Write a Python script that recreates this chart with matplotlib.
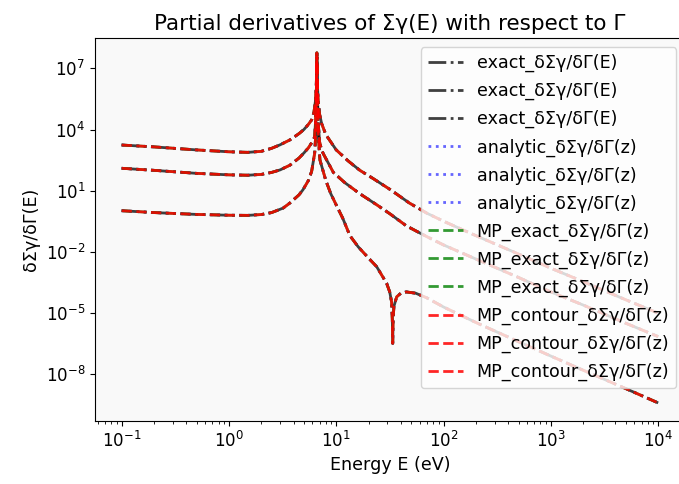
import numpy as np
import matplotlib
matplotlib.use('Agg')
import matplotlib.pyplot as plt
from matplotlib.ticker import FixedLocator, NullLocator, LogLocator

plt.rcParams['font.size'] = 12.6
plt.rcParams['xtick.labelsize'] = 12
plt.rcParams['ytick.labelsize'] = 12

# curve 1 (upper)
e_top = [0.1, 0.2, 0.5, 1.0, 1.5, 2.0, 2.5, 3.0, 3.7, 4.5, 5.0, 5.5, 5.9, 6.2, 6.4, 6.5, 6.56,
         6.6, 6.65, 6.7, 6.8, 7.0, 7.3, 8.0, 10, 13, 16.6, 22, 32, 48, 70, 100, 200, 500,
         1000, 2000, 5000, 10000]
d_top = [1.74e3, 1.41e3, 1.0e3, 8.1e2, 7.6e2, 8.5e2, 1.2e3, 1.78e3, 3.1e3, 6.3e3, 1.0e4, 1.78e4,
         2.95e4, 7.1e4, 2.5e5, 1.0e6, 6.3e6, 5.75e7, 6.3e6, 1.0e6, 2.5e5, 5.6e4, 2.0e4, 5.6e3,
         1.0e3, 2.8e2, 1.0e2, 4.0e1, 1.12e1, 2.5, 0.79, 0.32, 6.3e-2, 7.9e-3, 1.6e-3, 3.5e-4,
         4.5e-5, 1.0e-5]

# curve 2 (middle)
e_mid = [0.1, 0.2, 0.5, 1.0, 1.5, 2.0, 2.5, 3.0, 3.7, 4.5, 5.0, 5.5, 5.9, 6.2, 6.3, 6.4, 6.5,
         6.56, 6.6, 6.65, 6.7, 6.8, 7.0, 7.3, 7.6, 9.4, 12, 16.6, 24, 32, 45, 70, 100, 200,
         500, 1000, 2000, 5000, 10000]
d_mid = [1.26e2, 1.0e2, 7.1e1, 6.0e1, 5.75e1, 6.3e1, 7.9e1, 1.05e2, 1.78e2, 4.0e2, 7.1e2, 1.26e3,
         2.24e3, 3.5e3, 5.0e3, 2.0e4, 3.2e5, 3.2e6, 3.5e7, 3.2e6, 3.2e5, 2.0e4, 2.5e3, 1.0e3,
         6.3e2, 7.9e1, 2.5e1, 7.1, 2.0, 0.71, 0.19, 5.6e-2, 2.2e-2, 4.5e-3, 5.6e-4, 1.1e-4,
         2.5e-5, 3.2e-6, 7.1e-7]

# curve 3 (lower, sign change near 33.6 eV)
e_bot = [0.1, 0.2, 0.5, 1.0, 1.5, 2.0, 2.5, 3.2, 3.7, 4.5, 4.9, 5.5, 5.9, 6.3, 6.4, 6.5, 6.56,
         6.6, 6.65, 6.7, 6.8, 7.05, 8.0, 8.9, 10, 11.5, 13.4, 16, 20, 23.8, 29.5, 31.5, 32.8,
         33.3, 33.6, 33.9, 34.5, 36.6, 40, 45, 55, 70, 100, 200, 500, 1000, 2000, 5000, 10000]
d_bot = [1.05, 0.85, 0.69, 0.63, 0.62, 0.68, 0.85, 1.41, 2.5, 6.3, 11.2, 31.6, 89, 7.1e2, 3.2e3,
         1.0e5, 1.6e6, 2.0e7, 1.6e6, 1.0e5, 5.0e3, 3.2e2, 31.6, 7.1, 2.0, 0.45, 6.3e-2, 1.8e-2,
         5.0e-3, 1.9e-3, 2.9e-4, 1.1e-4, 3.5e-5, 5.0e-6, 3.3e-7, 5.0e-6, 2.2e-5, 6.3e-5, 9.5e-5,
         1.1e-4, 9.5e-5, 5.6e-5, 2.0e-5, 3.5e-6, 4.0e-7, 7.9e-8, 1.6e-8, 2.0e-9, 4.0e-10]

curves = [(e_top, d_top), (e_mid, d_mid), (e_bot, d_bot)]
methods = ['exact_δΣγ/δΓ(E)', 'analytic_δΣγ/δΓ(z)', 'MP_exact_δΣγ/δΓ(z)', 'MP_contour_δΣγ/δΓ(z)']
styles = [('k', '-.', 0.75), ('b', ':', 0.6), ('g', '--', 0.8), ('r', '--', 0.85)]
y_ticks = [1e-8, 1e-5, 1e-2, 1e1, 1e4, 1e7]

fig = plt.figure(figsize=(6.79, 4.84), dpi=100)
ax = fig.add_axes([95/679, 1 - 420.7/484, 590/679, (420.7 - 38.3)/484])
ax.set_facecolor('#f9f9f9')

for name, (c, ls, a) in zip(methods, styles):
    for e, d in curves:
        ax.loglog(e, d, color=c, linestyle=ls, alpha=a, lw=2, label=name)

ax.set_xlim(10**-1.248, 10**4.25)
ax.set_ylim(10**-10.27, 10**8.47)
ax.yaxis.set_major_locator(FixedLocator(y_ticks))
ax.yaxis.set_minor_locator(NullLocator())
ax.xaxis.set_major_locator(LogLocator(base=10, numticks=10))

ax.set_title('Partial derivatives of Σγ(E) with respect to Γ', fontsize=15.5)
ax.set_xlabel('Energy E (eV)')
ax.set_ylabel('δΣγ/δΓ(E)')
ax.legend(loc='upper right', labelspacing=0.56)

fig.savefig('out.png', dpi=100)
